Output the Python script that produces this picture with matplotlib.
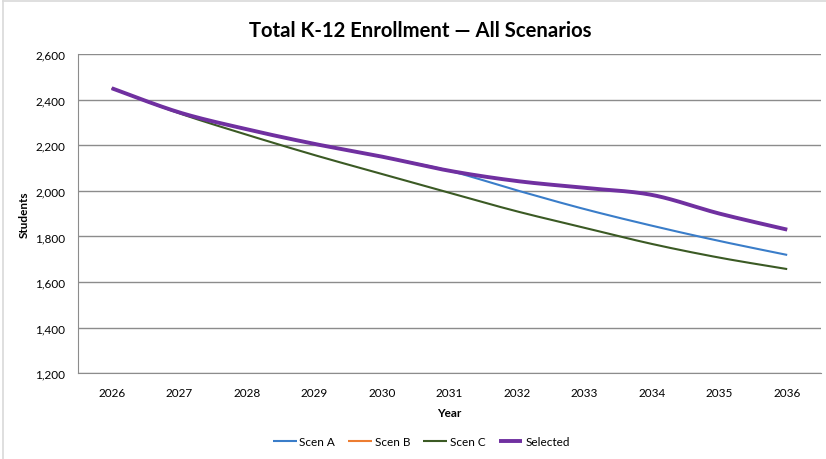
import numpy as np
import matplotlib
matplotlib.use("Agg")
import matplotlib.pyplot as plt
from matplotlib.lines import Line2D
from matplotlib.ticker import FuncFormatter

plt.rcParams["font.family"] = ["Lato", "DejaVu Sans"]

years = ["2026", "2027", "2028", "2029", "2030", "2031", "2032", "2033", "2034", "2035", "2036"]
scen_a = [2450, 2344, 2270, 2206, 2150, 2088, 2002, 1920, 1847, 1780, 1719]
scen_b = [2450, 2344, 2270, 2206, 2150, 2088, 2043, 2013, 1982, 1900, 1830]
scen_c = [2450, 2340, 2246, 2157, 2074, 1991, 1910, 1838, 1767, 1707, 1657]
selected = [2450, 2344, 2270, 2206, 2150, 2088, 2043, 2013, 1982, 1900, 1830]

series = [
    ("Scen A", scen_a, "#3A7DC9", 1.5),
    ("Scen B", scen_b, "#ED7D31", 1.5),
    ("Scen C", scen_c, "#3B5A24", 1.5),
    ("Selected", selected, "#7030A0", 2.8),
]


def smooth(x, y, steps=30):
    # Catmull-Rom style bezier curve through every point (spreadsheet "smoothed line")
    x = np.asarray(x, float)
    y = np.asarray(y, float)
    px = np.concatenate([[x[0]], x, [x[-1]]])
    py = np.concatenate([[y[0]], y, [y[-1]]])
    xs, ys = [], []
    t = np.linspace(0, 1, steps)
    for i in range(1, len(px) - 2):
        p0 = np.array([px[i], py[i]])
        p3 = np.array([px[i + 1], py[i + 1]])
        p1 = p0 + (np.array([px[i + 1], py[i + 1]]) - np.array([px[i - 1], py[i - 1]])) / 6
        p2 = p3 - (np.array([px[i + 2], py[i + 2]]) - np.array([px[i], py[i]])) / 6
        b = ((1 - t) ** 3)[:, None] * p0 + (3 * (1 - t) ** 2 * t)[:, None] * p1 \
            + (3 * (1 - t) * t ** 2)[:, None] * p2 + (t ** 3)[:, None] * p3
        xs.extend(b[:, 0])
        ys.extend(b[:, 1])
    return xs, ys


fig = plt.figure(figsize=(8.26, 4.6), dpi=100)
# chart frame, only the left and top edges fall inside the image
fig.add_artist(Line2D([0.004, 0.004], [0, 0.996], color="#D9D9D9", lw=1.2))
fig.add_artist(Line2D([0.004, 1], [0.996, 0.996], color="#D9D9D9", lw=1.2))

ax = fig.add_axes([0.0944, 0.1863, 0.8995, 0.6941])

pos = np.arange(len(years))
for name, vals, color, lw in series:
    sx, sy = smooth(pos, vals)
    ax.plot(sx, sy, color=color, lw=lw, label=name, solid_capstyle="butt")

ax.set_xlim(-0.5, len(years) - 0.5)
ax.set_ylim(1200, 2600)
ax.set_yticks(range(1200, 2601, 200))
ax.yaxis.set_major_formatter(FuncFormatter(lambda v, p: f"{int(v):,}"))
ax.set_xticks(pos)
ax.set_xticklabels(years)
ax.tick_params(axis="both", length=0, labelsize=8.5, colors="#000000")
ax.tick_params(axis="x", pad=10)
ax.tick_params(axis="y", pad=9)
ax.grid(axis="y", color="#8C8C8C", lw=1)
ax.set_axisbelow(True)
for side in ["top", "right"]:
    ax.spines[side].set_visible(False)
ax.spines["left"].set_color("#8C8C8C")
ax.spines["bottom"].set_color("#8C8C8C")

ax.set_xlabel("Year", fontsize=8.5, fontweight="bold", labelpad=6)
ax.set_ylabel("Students", fontsize=8.5, fontweight="bold", labelpad=4)
fig.text(0.509, 0.933, "Total K-12 Enrollment — All Scenarios", fontsize=14.6,
         fontweight="bold", ha="center", va="center")

fig.legend(loc="center", bbox_to_anchor=(0.51, 0.037), ncol=4, frameon=False,
           fontsize=8.5, handlelength=2.0, handletextpad=0.25, columnspacing=1.1)

fig.savefig("out.png", dpi=100)
